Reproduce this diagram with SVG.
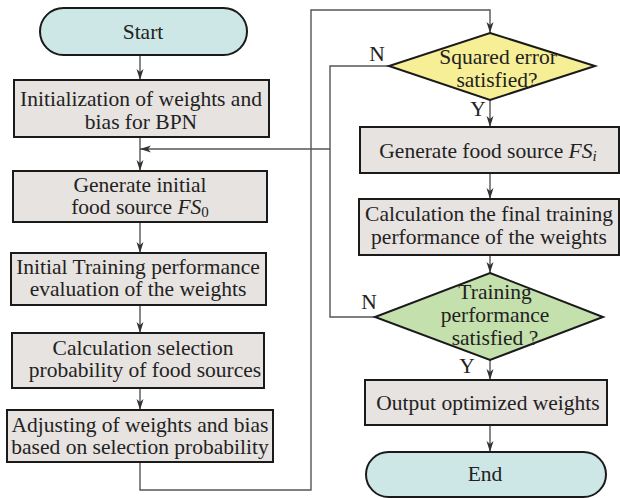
<svg xmlns="http://www.w3.org/2000/svg" width="620" height="498" viewBox="0 0 620 498">
<defs>
<marker id="arr" markerUnits="userSpaceOnUse" markerWidth="12" markerHeight="8" refX="11" refY="3.5" orient="auto">
<path d="M0,0 L11,3.5 L0,7 L3,3.5 z" fill="#333"/>
</marker>
<style>
.t{font-family:"Liberation Serif","Times New Roman",serif;font-size:21.5px;fill:#222;text-anchor:middle}
.box{fill:#e7e3e0;stroke:#1a1a1a;stroke-width:2}
.term{fill:#cde6e6;stroke:#1a1a1a;stroke-width:2}
.d1{fill:#f6ef96;stroke:#1a1a1a;stroke-width:2}
.d2{fill:#c4e0ad;stroke:#1a1a1a;stroke-width:2}
.c{fill:none;stroke:#555;stroke-width:1.4}
.ca{fill:none;stroke:#555;stroke-width:1.4;marker-end:url(#arr)}
</style>
</defs>
<rect width="620" height="498" fill="#fff"/>
<g id="connectors">
<path class="ca" d="M140,55 V80"/>
<path class="ca" d="M140,137 V171"/>
<path class="ca" d="M140,222 V253"/>
<path class="ca" d="M140,305 V333"/>
<path class="ca" d="M140,388 V410"/>
<path class="ca" d="M140,462 V490 H311 V10 H490 V33"/>
<path class="ca" d="M490,100 V127"/>
<path class="ca" d="M490,173 V199"/>
<path class="ca" d="M490,255 V273"/>
<path class="ca" d="M490,360 V380"/>
<path class="ca" d="M490,425 V452"/>
<path class="c" d="M389,66 H330 V317 H375"/>
<path class="ca" d="M330,149 H140"/>
<text class="t" x="377" y="61">N</text>
<text class="t" x="478" y="116">Y</text>
<text class="t" x="369" y="309">N</text>
<text class="t" x="467" y="373">Y</text>
</g>
<g id="start">
<rect class="term" x="40" y="8" width="207" height="47" rx="23.5"/>
<text class="t" x="143" y="39">Start</text>
</g>
<g id="init">
<rect class="box" x="14" y="80" width="255" height="57"/>
<text class="t" x="141" y="106">Initialization of weights and</text>
<text class="t" x="141" y="129">bias for BPN</text>
</g>
<g id="gen0">
<rect class="box" x="13" y="171" width="254" height="51"/>
<text class="t" x="140" y="192">Generate initial</text>
<text class="t" x="140" y="214">food source <tspan font-style="italic">FS</tspan><tspan font-size="15" dy="3">0</tspan></text>
</g>
<g id="eval0">
<rect class="box" x="11" y="253" width="255" height="52"/>
<text class="t" x="138" y="274">Initial Training performance</text>
<text class="t" x="138" y="296">evaluation of the weights</text>
</g>
<g id="prob">
<rect class="box" x="12" y="333" width="252" height="55"/>
<text class="t" x="143" y="355">Calculation selection</text>
<text class="t" x="145" y="377">probability of food sources</text>
</g>
<g id="adjust">
<rect class="box" x="7" y="410" width="266" height="52"/>
<text class="t" x="140" y="432">Adjusting of weights and bias</text>
<text class="t" x="140" y="454">based on selection probability</text>
</g>
<g id="squared">
<polygon class="d1" points="490,33 595,66 490,100 389,66"/>
<text class="t" x="498" y="64">Squared error</text>
<text class="t" x="497" y="87">satisfied?</text>
</g>
<g id="genI">
<rect class="box" x="360" y="127" width="259" height="46"/>
<text class="t" x="488" y="158">Generate food source <tspan font-style="italic">FS</tspan><tspan font-style="italic" font-size="15" dy="3">i</tspan></text>
</g>
<g id="final">
<rect class="box" x="359" y="199" width="260" height="56"/>
<text class="t" x="489" y="221">Calculation the final training</text>
<text class="t" x="489" y="244">performance of the weights</text>
</g>
<g id="trainperf">
<polygon class="d2" points="490,273 603,317 490,360 375,317"/>
<text class="t" x="495" y="299">Training</text>
<text class="t" x="495" y="322">performance</text>
<text class="t" x="495" y="345">satisfied ?</text>
</g>
<g id="output">
<rect class="box" x="365" y="380" width="242" height="45"/>
<text class="t" x="488" y="410">Output optimized weights</text>
</g>
<g id="end">
<rect class="term" x="366" y="452" width="240" height="45" rx="22.5"/>
<text class="t" x="485" y="481">End</text>
</g>
</svg>
